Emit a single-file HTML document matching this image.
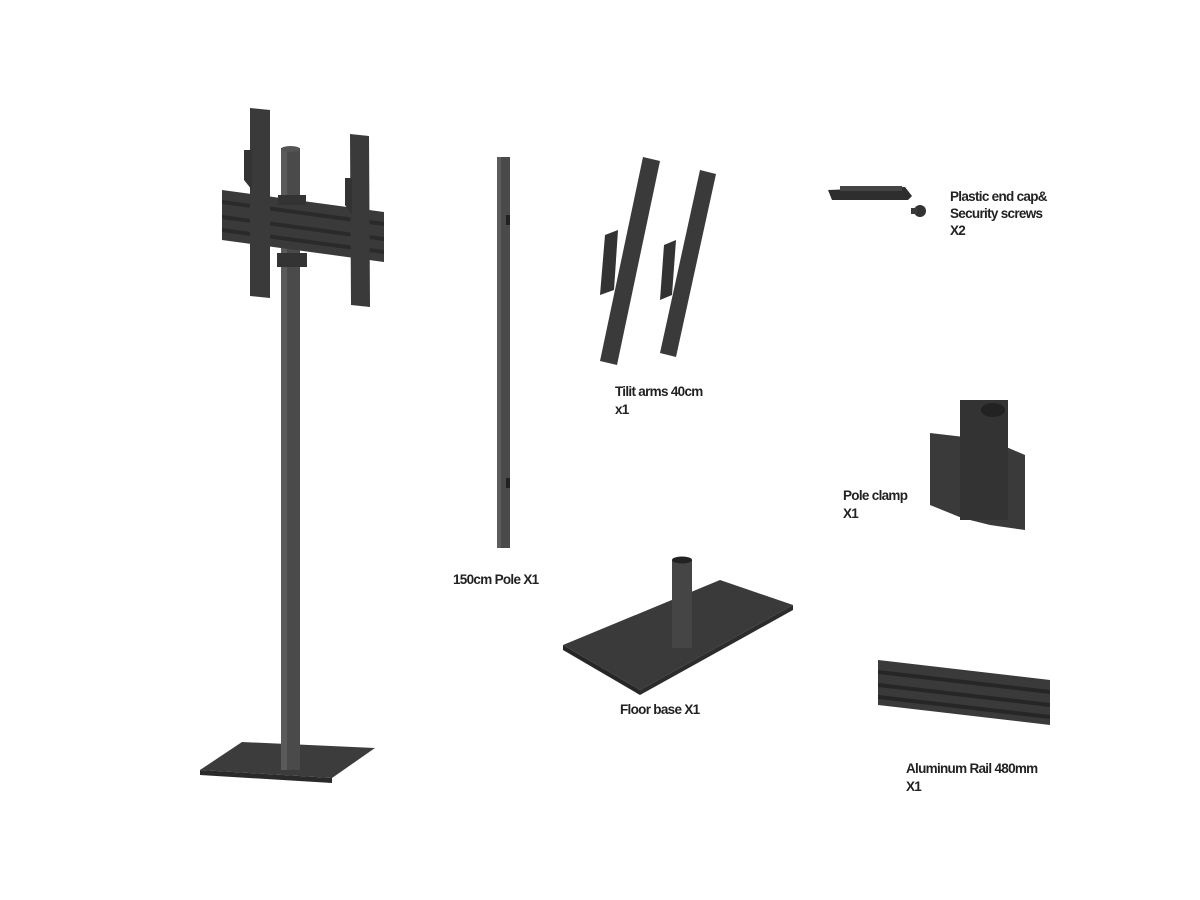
<!DOCTYPE html>
<html><head><meta charset="utf-8"><style>
html,body{margin:0;padding:0;background:#fff;}
svg{display:block}
text{font-family:"Liberation Sans",sans-serif;font-weight:bold;font-size:13.5px;fill:#222;letter-spacing:-0.7px}
</style></head><body>
<svg width="1200" height="900" viewBox="0 0 1200 900" xmlns="http://www.w3.org/2000/svg">
<polygon points="200,770 242,742 375,748 332,778" fill="#3c3c3c"/>
<polygon points="200,770 332,778 332,783 200,775" fill="#2a2a2a"/>
<rect x="281" y="148" width="19" height="622" fill="#4a4a4a"/>
<rect x="281" y="148" width="6" height="622" fill="#5a5a5a"/>
<ellipse cx="290.5" cy="149" rx="9.5" ry="3" fill="#555"/>
<polygon points="222,190 384,212 384,262 222,240" fill="#3a3a3a"/>
<polygon points="222,200 384,222 384,226 222,204" fill="#2a2a2a"/>
<polygon points="222,215 384,237 384,241 222,219" fill="#2a2a2a"/>
<polygon points="222,228 384,250 384,254 222,232" fill="#2a2a2a"/>
<rect x="278" y="195" width="28" height="10" fill="#333"/>
<rect x="277" y="253" width="30" height="14" fill="#333"/>
<polygon points="250,108 270,110 270,298 250,296" fill="#3a3a3a"/>
<polygon points="350,134 369,136 370,307 351,305" fill="#3a3a3a"/>
<polygon points="244,150 252,150 252,190 244,180" fill="#333"/>
<polygon points="345,178 352,178 352,215 345,205" fill="#333"/>
<rect x="497" y="157" width="13" height="391" fill="#4a4a4a"/>
<rect x="497" y="157" width="4" height="391" fill="#5c5c5c"/>
<rect x="506" y="215" width="4" height="10" fill="#222"/>
<rect x="506" y="478" width="4" height="10" fill="#222"/>
<polygon points="643,157 660,161 617,365 600,361" fill="#3a3a3a"/>
<polygon points="700,170 716,174 676,357 660,353" fill="#3a3a3a"/>
<polygon points="605,235 618,230 614,290 600,295" fill="#333"/>
<polygon points="664,245 676,240 672,295 660,300" fill="#333"/>
<polygon points="828,190 905,187 912,196 908,200 832,200" fill="#2e2e2e"/>
<rect x="840" y="186" width="62" height="5" fill="#444"/>
<circle cx="920" cy="211" r="6" fill="#333"/>
<rect x="911" y="208" width="6" height="6" fill="#3a3a3a"/>
<polygon points="930,433 990,440 1025,455 1025,530 990,525 962,518 930,505" fill="#3a3a3a"/>
<rect x="960" y="400" width="48" height="120" fill="#333"/>
<ellipse cx="993" cy="410" rx="12" ry="7" fill="#222"/>
<polygon points="563,645 720,580 793,605 640,690" fill="#3a3a3a"/>
<polygon points="563,645 640,690 640,695 563,650" fill="#262626"/>
<polygon points="640,690 793,605 793,610 640,695" fill="#2c2c2c"/>
<rect x="672" y="560" width="20" height="88" fill="#454545"/>
<ellipse cx="682" cy="560" rx="10" ry="3.5" fill="#222"/>
<polygon points="878,660 1050,680 1050,725 878,705" fill="#3a3a3a"/>
<polygon points="878,670 1050,690 1050,694 878,674" fill="#262626"/>
<polygon points="878,683 1050,703 1050,707 878,687" fill="#262626"/>
<polygon points="878,695 1050,715 1050,719 878,699" fill="#262626"/>
<text x="950" y="201">Plastic end cap&amp;</text>
<text x="950" y="218">Security screws</text>
<text x="950" y="235">X2</text>
<text x="615" y="396">Tilit arms 40cm</text>
<text x="615" y="414">x1</text>
<text x="843" y="500">Pole clamp</text>
<text x="843" y="518">X1</text>
<text x="453" y="584">150cm Pole X1</text>
<text x="620" y="714">Floor base X1</text>
<text x="906" y="773">Aluminum Rail 480mm</text>
<text x="906" y="791">X1</text>
</svg>
</body></html>
